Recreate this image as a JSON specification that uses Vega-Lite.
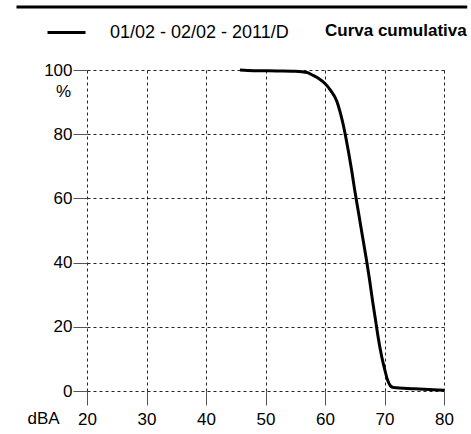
{
  "$schema": "https://vega.github.io/schema/vega-lite/v6.json",
  "width": 357,
  "height": 321,
  "autosize": "none",
  "padding": {"left": 87, "top": 70, "right": 27, "bottom": 43},
  "background": "white",
  "config": {
    "font": "Liberation Sans",
    "view": {"stroke": null},
    "axis": {
      "labelFontSize": 17,
      "labelColor": "black",
      "titleFontSize": 17,
      "titleFontWeight": "normal",
      "titleColor": "black",
      "tickSize": 14,
      "tickColor": "#555",
      "domain": false,
      "grid": true,
      "gridDash": [3, 3],
      "gridColor": "#222",
      "gridOpacity": 1,
      "labelFlush": false,
      "labelOverlap": false
    }
  },
  "layer": [
    {
      "data": {"values": [
        {"dBA": 45.7, "pct": 100, "s": "01/02 - 02/02 - 2011/D"},
        {"dBA": 48, "pct": 99.8, "s": "01/02 - 02/02 - 2011/D"},
        {"dBA": 52, "pct": 99.7, "s": "01/02 - 02/02 - 2011/D"},
        {"dBA": 55, "pct": 99.6, "s": "01/02 - 02/02 - 2011/D"},
        {"dBA": 57, "pct": 99.2, "s": "01/02 - 02/02 - 2011/D"},
        {"dBA": 58, "pct": 98.3, "s": "01/02 - 02/02 - 2011/D"},
        {"dBA": 59, "pct": 97.3, "s": "01/02 - 02/02 - 2011/D"},
        {"dBA": 60, "pct": 95.8, "s": "01/02 - 02/02 - 2011/D"},
        {"dBA": 61, "pct": 93.5, "s": "01/02 - 02/02 - 2011/D"},
        {"dBA": 62, "pct": 90.2, "s": "01/02 - 02/02 - 2011/D"},
        {"dBA": 62.5, "pct": 87.2, "s": "01/02 - 02/02 - 2011/D"},
        {"dBA": 63, "pct": 83.5, "s": "01/02 - 02/02 - 2011/D"},
        {"dBA": 63.5, "pct": 79, "s": "01/02 - 02/02 - 2011/D"},
        {"dBA": 64, "pct": 74, "s": "01/02 - 02/02 - 2011/D"},
        {"dBA": 64.5, "pct": 68.5, "s": "01/02 - 02/02 - 2011/D"},
        {"dBA": 65, "pct": 62.5, "s": "01/02 - 02/02 - 2011/D"},
        {"dBA": 65.5, "pct": 57, "s": "01/02 - 02/02 - 2011/D"},
        {"dBA": 66, "pct": 51.5, "s": "01/02 - 02/02 - 2011/D"},
        {"dBA": 66.5, "pct": 46, "s": "01/02 - 02/02 - 2011/D"},
        {"dBA": 67, "pct": 40.5, "s": "01/02 - 02/02 - 2011/D"},
        {"dBA": 67.5, "pct": 34.5, "s": "01/02 - 02/02 - 2011/D"},
        {"dBA": 68, "pct": 28, "s": "01/02 - 02/02 - 2011/D"},
        {"dBA": 68.5, "pct": 22, "s": "01/02 - 02/02 - 2011/D"},
        {"dBA": 69, "pct": 16, "s": "01/02 - 02/02 - 2011/D"},
        {"dBA": 69.5, "pct": 11, "s": "01/02 - 02/02 - 2011/D"},
        {"dBA": 70, "pct": 7, "s": "01/02 - 02/02 - 2011/D"},
        {"dBA": 70.5, "pct": 3.5, "s": "01/02 - 02/02 - 2011/D"},
        {"dBA": 71, "pct": 1.6, "s": "01/02 - 02/02 - 2011/D"},
        {"dBA": 71.5, "pct": 1.1, "s": "01/02 - 02/02 - 2011/D"},
        {"dBA": 75, "pct": 0.7, "s": "01/02 - 02/02 - 2011/D"},
        {"dBA": 80, "pct": 0.2, "s": "01/02 - 02/02 - 2011/D"}
      ]},
      "mark": {"type": "line", "strokeWidth": 3, "interpolate": "monotone"},
      "encoding": {
        "x": {
          "field": "dBA", "type": "quantitative",
          "scale": {"domain": [20, 80], "nice": false, "zero": false},
          "axis": {
            "values": [20, 30, 40, 50, 60, 70, 80],
            "title": "dBA",
            "titleX": -44,
            "titleY": 32,
            "titleAlign": "center",
            "titleBaseline": "alphabetic",
            "labelPadding": 6
          }
        },
        "y": {
          "field": "pct", "type": "quantitative",
          "scale": {"domain": [0, 100], "nice": false},
          "axis": {
            "values": [0, 20, 40, 60, 80, 100],
            "title": "%",
            "titleAngle": 0,
            "titleX": -24,
            "titleY": 21,
            "titleAlign": "center",
            "titleBaseline": "middle",
            "labelPadding": 1
          }
        },
        "stroke": {
          "field": "s", "type": "nominal",
          "scale": {"range": ["black"]},
          "legend": {
            "orient": "none",
            "legendX": -41,
            "legendY": -58,
            "title": "Curva cumulativa",
            "titleOrient": "right",
            "titleFontSize": 17,
            "titleFontWeight": "bold",
            "titleColor": "black",
            "titlePadding": 36,
            "titleBaseline": "line-top",
            "titleLineHeight": 8,
            "labelFontSize": 18,
            "labelColor": "black",
            "labelOffset": 23,
            "labelLimit": 400,
            "symbolType": "stroke",
            "symbolSize": 1444,
            "symbolStrokeWidth": 3,
            "symbolStrokeColor": "black"
          }
        }
      }
    },
    {
      "data": {"values": [{"frame": 1}]},
      "mark": {"type": "rule", "stroke": "black", "strokeWidth": 3, "clip": false},
      "encoding": {
        "x": {"datum": 8.15, "type": "quantitative"},
        "x2": {"datum": 83.9},
        "y": {"datum": 119.6, "type": "quantitative"}
      }
    }
  ]
}
